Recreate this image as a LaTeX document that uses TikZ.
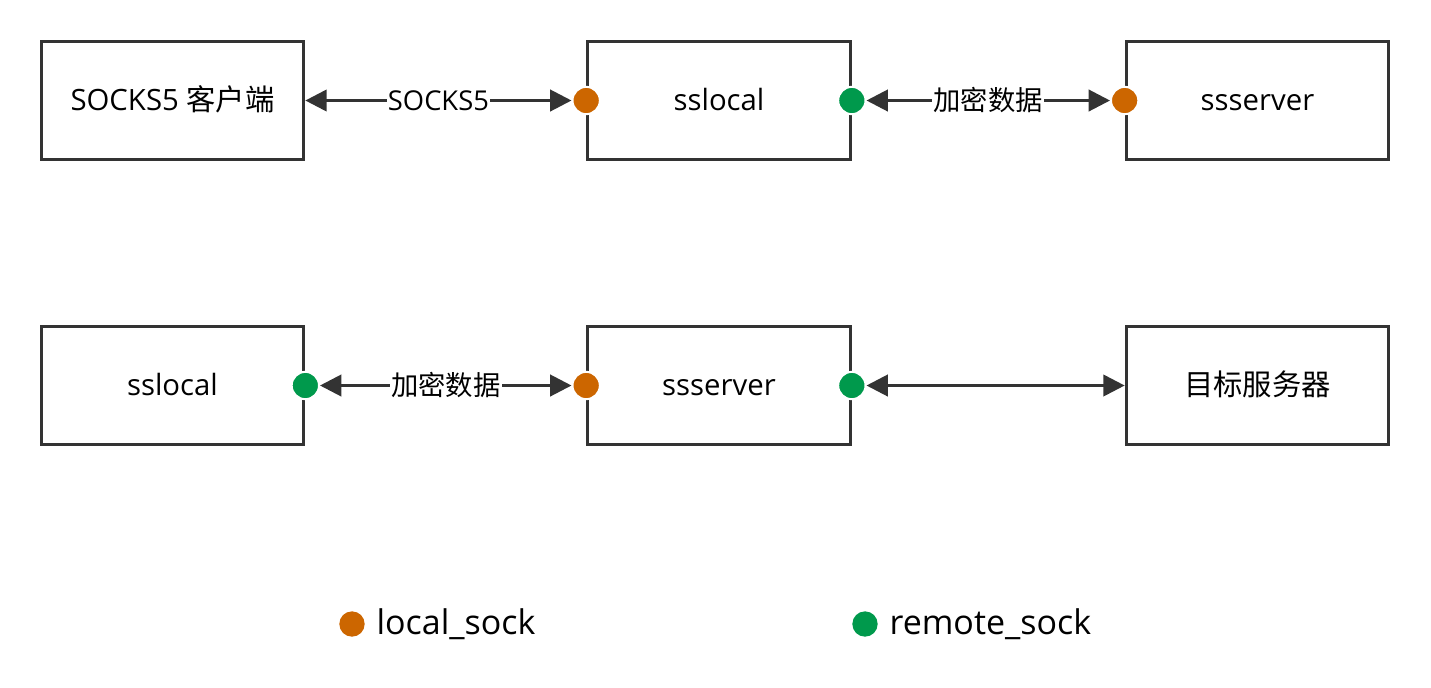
\documentclass[tikz,border=0pt]{standalone}
\usepackage{fontspec}
\setmainfont{Open Sans}
\newfontfamily\cjk{Noto Sans CJK SC}
\usetikzlibrary{arrows.meta,positioning}
\definecolor{boxline}{HTML}{333333}
\definecolor{localcol}{HTML}{CC6600}
\definecolor{remotecol}{HTML}{00994C}
\tikzset{
  sockbox/.style = {
    rectangle,
    draw=boxline,
    line width=2.25pt,
    minimum width=197pt,
    minimum height=89pt,
    text height=19pt,
    text depth=3.5pt,
    font=\fontsize{22}{26}\selectfont
  },
  sockdot/.style = {
    circle,
    draw=white,
    line width=1.5pt,
    inner sep=0pt,
    minimum size=20.5pt
  },
  localdot/.style = {sockdot, fill=localcol},
  remotedot/.style = {sockdot, fill=remotecol},
  sockarrow/.style = {
    {Triangle[length=16pt,width=16pt]}-{Triangle[length=16pt,width=16pt]},
    draw=boxline,
    line width=2.25pt
  },
  socklabel/.style = {
    fill=white,
    inner sep=1pt,
    font=\fontsize{20.5}{24}\selectfont
  },
  legendtext/.style = {
    anchor=west,
    inner sep=0pt,
    font=\fontsize{25.5}{30}\selectfont
  }
}
\begin{document}
\begin{tikzpicture}[x=0.75pt,y=-0.75pt]
    \useasboundingbox (0,0) rectangle (1431,687);
    % first row: client side
    \node[sockbox] (client) at (172.5,100.5) {SOCKS5 {\cjk 客户端}};
    \node[sockbox] (local) at (719,100.5) {sslocal};
    \node[sockbox] (server) at (1257.5,100.5) {ssserver};
    % second row: server side
    \node[sockbox] (local2) at (172.5,385.5) {sslocal};
    \node[sockbox] (server2) at (719,385.5) {ssserver};
    \node[sockbox] (target) at (1257.5,385.5) {\cjk 目标服务器};
    % sockets
    \node[localdot] (local-in) at (local.west) {};
    \node[remotedot] (local-out) at (local.east) {};
    \node[localdot] (server-in) at (server.west) {};
    \node[remotedot] (local2-out) at (local2.east) {};
    \node[localdot] (server2-in) at (server2.west) {};
    \node[remotedot] (server2-out) at (server2.east) {};
    % connections
    \draw[sockarrow] (client.east) -- node[socklabel] {SOCKS5} (local-in);
    \draw[sockarrow] (local-out) -- node[socklabel] {\cjk 加密数据} (server-in);
    \draw[sockarrow] (local2-out) -- node[socklabel] {\cjk 加密数据} (server2-in);
    \draw[sockarrow] (server2-out) -- (target.west);
    % legend
    \node[localdot, draw=none, minimum size=19pt] (leg-local) at (352,624) {};
    \node[legendtext, right=8pt of leg-local] (leg-local-text) {local\_sock};
    \node[remotedot, draw=none, minimum size=19pt] (leg-remote) at (865,624) {};
    \node[legendtext, right=8pt of leg-remote] (leg-remote-text) {remote\_sock};
\end{tikzpicture}
\end{document}
